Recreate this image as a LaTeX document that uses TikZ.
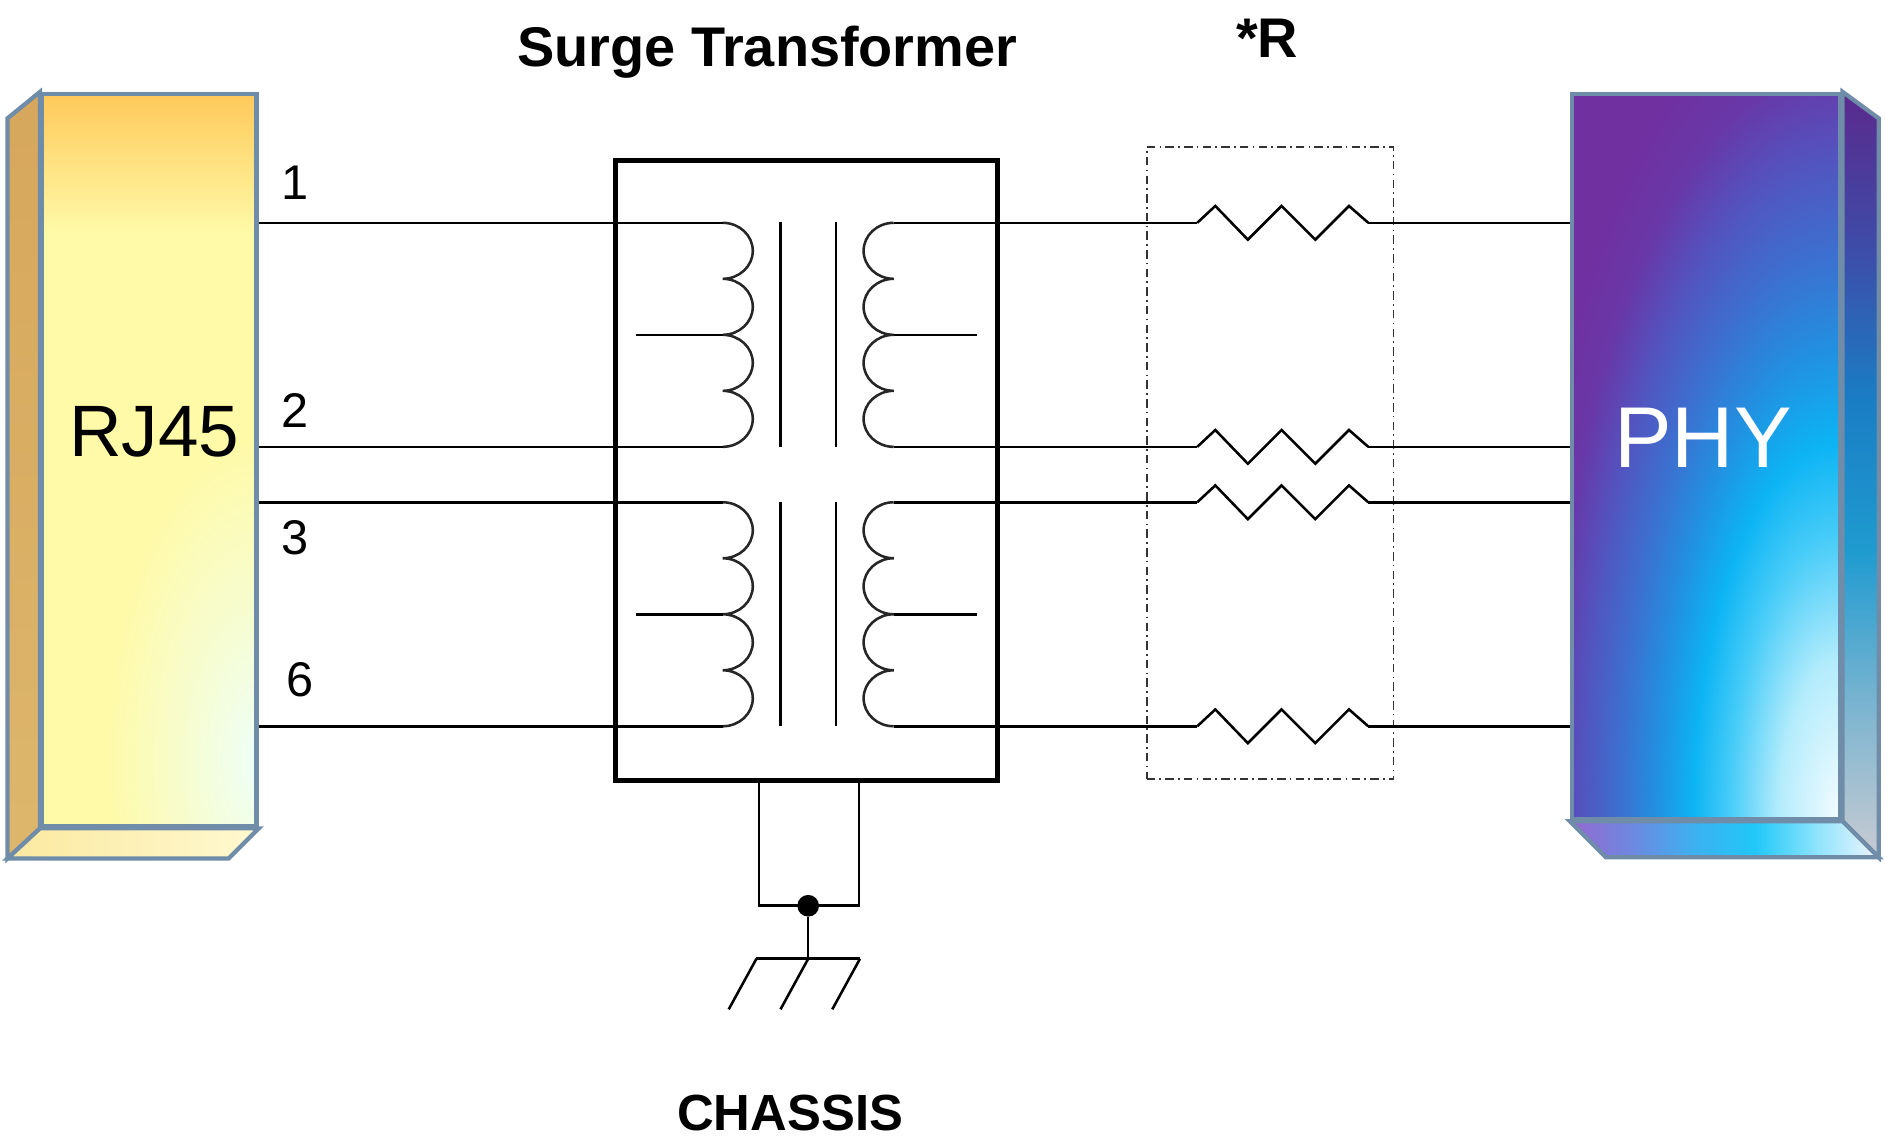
\documentclass[tikz,border=0pt]{standalone}
\usepackage{fontspec}
\setmainfont{Liberation Sans}
\usepackage{tikz}
\usetikzlibrary{positioning}

\definecolor{boxedge}{HTML}{6F8CA8}
\definecolor{rjtop}{HTML}{FFC95A}
\definecolor{rjband}{HTML}{FFDD6C}
\definecolor{rjlow}{HTML}{FFFAA8}
\definecolor{rjglow}{HTML}{EEFFF8}
\definecolor{rjsidetop}{HTML}{D6A75C}
\definecolor{rjsidebot}{HTML}{DDB66C}
\definecolor{rjbotl}{HTML}{FBE9A0}
\definecolor{rjbotr}{HTML}{FFF9D0}
\pgfdeclareradialshading{rjglowshade}{\pgfpoint{0bp}{0bp}}{color(0bp)=(rjglow); color(5bp)=(rjglow!55!rjlow); color(12bp)=(rjlow); color(50bp)=(rjlow)}
\pgfdeclareradialshading{phyglow}{\pgfpoint{0bp}{0bp}}{color(0bp)=(rgb,255:red,244;green,252;blue,255); color(5bp)=(rgb,255:red,180;green,236;blue,252); color(9bp)=(rgb,255:red,72;green,204;blue,248); color(12bp)=(rgb,255:red,12;green,180;blue,244); color(15bp)=(rgb,255:red,34;green,144;blue,224); color(18bp)=(rgb,255:red,60;green,112;blue,208); color(21bp)=(rgb,255:red,82;green,85;blue,192); color(24bp)=(rgb,255:red,104;green,56;blue,168); color(27bp)=(rgb,255:red,112;green,48;blue,160); color(50bp)=(rgb,255:red,112;green,48;blue,160)}
\pgfdeclareverticalshading{physide}{100bp}{color(0bp)=(rgb,255:red,200;green,203;blue,210); color(25bp)=(rgb,255:red,200;green,203;blue,210); color(35bp)=(rgb,255:red,122;green,180;blue,208); color(45bp)=(rgb,255:red,31;green,155;blue,208); color(55bp)=(rgb,255:red,26;green,125;blue,196); color(65bp)=(rgb,255:red,63;green,75;blue,168); color(75bp)=(rgb,255:red,90;green,42;blue,140); color(100bp)=(rgb,255:red,90;green,42;blue,140)}
\pgfdeclarehorizontalshading{phybot}{100bp}{color(0bp)=(rgb,255:red,148;green,104;blue,208); color(25bp)=(rgb,255:red,148;green,104;blue,208); color(35bp)=(rgb,255:red,110;green,136;blue,224); color(45bp)=(rgb,255:red,61;green,176;blue,240); color(55bp)=(rgb,255:red,32;green,200;blue,248); color(65bp)=(rgb,255:red,142;green,228;blue,252); color(75bp)=(rgb,255:red,240;green,244;blue,255); color(100bp)=(rgb,255:red,240;green,244;blue,255)}

\begin{document}
\begin{tikzpicture}[x=0.1mm,y=-0.1mm]
		\tikzstyle{wire}=[line width=0.6pt]
		\tikzstyle{coil}=[line width=0.6pt, black!85]
		\tikzstyle{prim}=[start angle=90, end angle=-90, x radius=2.5mm, y radius=2.325mm]
		\tikzstyle{sec}=[start angle=90, end angle=270, x radius=2.5mm, y radius=2.325mm]
		\tikzstyle{xfbox}=[rectangle, draw=black, line width=1.1pt, minimum width=31.7mm, minimum height=51.5mm, inner sep=0pt]
		\tikzstyle{rbox}=[rectangle, draw=black!80, line width=0.4pt, dash pattern=on 2pt off 1pt on 0.4pt off 1pt, minimum width=20.5mm, minimum height=52.5mm, inner sep=0pt]
		\tikzstyle{rjface}=[rectangle, draw=boxedge, line width=1pt, minimum width=17.8mm, minimum height=60.8mm, inner sep=0pt,
			path picture={\shade[shading=rjglowshade] ([shift={(-260,-500)}]path picture bounding box.south east) rectangle ([shift={(260,500)}]path picture bounding box.south east);
				\shade[top color=rjtop, middle color=rjband, bottom color=rjlow] (path picture bounding box.north west) rectangle ([shift={(0,115)}]path picture bounding box.north east);}]
		\tikzstyle{phyface}=[rectangle, draw=boxedge, line width=1pt, minimum width=22.3mm, minimum height=60.2mm, inner sep=0pt,
			path picture={\shade[shading=phyglow] ([shift={(-255,-650)}]path picture bounding box.south east) rectangle ([shift={(255,650)}]path picture bounding box.south east);}]
		\tikzstyle{dot}=[circle, fill=black, inner sep=0pt, minimum size=1.8mm]
		\tikzstyle{pinlbl}=[anchor=base, inner sep=0pt, font=\fontsize{11.5}{13}\selectfont]
		\tikzstyle{title}=[anchor=base, inner sep=0pt, font=\fontsize{13.2}{15}\selectfont\bfseries]
		\useasboundingbox (0,0) rectangle (1565,944);
		
		% connector blocks
		\node[rjface] (rj45) at (124,382) {};
		\draw[boxedge, line width=1pt, top color=rjsidetop, bottom color=rjsidebot]
			(rj45.north west) -- ++(-27,22) -- ([shift={(-27,25)}]rj45.south west) -- (rj45.south west) -- cycle;
		\draw[boxedge, line width=1pt, left color=rjbotl, right color=rjbotr]
			(rj45.south west) -- (rj45.south east) -- ++(-25,25) -- ([shift={(-27,25)}]rj45.south west) -- cycle;
		\node[phyface] (phy) at (1416.5,379) {};
		\draw[boxedge, line width=1pt, shading=physide]
			(phy.north east) -- ++(30,22) -- ([shift={(30,30)}]phy.south east) -- (phy.south east) -- cycle;
		\draw[boxedge, line width=1pt, shading=phybot]
			(phy.south west) -- (phy.south east) -- ++(30,30) -- ([shift={(30,30)}]phy.south west) -- cycle;
		\node[anchor=base, inner sep=0pt, font=\fontsize{17.2}{20}\selectfont] (rjtxt) at (128,379) {RJ45};
		\node[anchor=base, inner sep=0pt, white, font=\fontsize{20.4}{24}\selectfont] (phytxt) at (1414,388) {PHY};
		
		% transformer
		\node[xfbox] (xfmr) at (669.5,390.5) {};
		\coordinate (t1) at (600,185);
		\coordinate (t2) at (600,371);
		\coordinate (t3) at (600,417);
		\coordinate (t6) at (600,603);
		\coordinate (s1) at (742,185);
		\coordinate (s2) at (742,371);
		\coordinate (s3) at (742,417);
		\coordinate (s6) at (742,603);
		\draw[coil] (t1) arc[prim] arc[prim] arc[prim] arc[prim];
		\draw[coil] (t3) arc[prim] arc[prim] arc[prim] arc[prim];
		\draw[coil] (s1) arc[sec] arc[sec] arc[sec] arc[sec];
		\draw[coil] (s3) arc[sec] arc[sec] arc[sec] arc[sec];
		\draw[wire] (528,278) -- (600,278);
		\draw[wire] (528,510) -- (600,510);
		\draw[wire] (742,278) -- (811,278);
		\draw[wire] (742,510) -- (811,510);
		\draw[wire] (648,184) -- (648,371);
		\draw[wire] (694,184) -- (694,371);
		\draw[wire] (648,417) -- (648,603);
		\draw[wire] (694,417) -- (694,603);
		
		% resistors
		\node[rbox] (rbank) at (1054.5,384.5) {};
		\coordinate (ra1) at (994,185);
		\coordinate (ra2) at (994,371);
		\coordinate (ra3) at (994,417);
		\coordinate (ra6) at (994,603);
		\coordinate (rb1) at (1136,185);
		\coordinate (rb2) at (1136,371);
		\coordinate (rb3) at (1136,417);
		\coordinate (rb6) at (1136,603);
		\draw[wire] (ra1) -- ++(15,-14) -- ++(27,28) -- ++(28,-28) -- ++(28,28) -- ++(28,-28) -- (rb1);
		\draw[wire] (ra2) -- ++(15,-14) -- ++(27,28) -- ++(28,-28) -- ++(28,28) -- ++(28,-28) -- (rb2);
		\draw[wire] (ra3) -- ++(15,-14) -- ++(27,28) -- ++(28,-28) -- ++(28,28) -- ++(28,-28) -- (rb3);
		\draw[wire] (ra6) -- ++(15,-14) -- ++(27,28) -- ++(28,-28) -- ++(28,28) -- ++(28,-28) -- (rb6);
		
		% wiring
		\path (t1 -| rj45.east) edge [wire] (t1);
		\path (t2 -| rj45.east) edge [wire] (t2);
		\path (t3 -| rj45.east) edge [wire] (t3);
		\path (t6 -| rj45.east) edge [wire] (t6);
		\path (s1) edge [wire] (ra1);
		\path (s2) edge [wire] (ra2);
		\path (s3) edge [wire] (ra3);
		\path (s6) edge [wire] (ra6);
		\path (rb1) edge [wire] (rb1 -| phy.west);
		\path (rb2) edge [wire] (rb2 -| phy.west);
		\path (rb3) edge [wire] (rb3 -| phy.west);
		\path (rb6) edge [wire] (rb6 -| phy.west);
		
		% chassis ground
		\node[dot] (gdot) at (671,752) {};
		\coordinate (gA) at (630,648);
		\coordinate (gB) at (713,648);
		\coordinate (gnd) at (671,796);
		\draw[wire] (gA) -- (gA |- gdot) -- (gB |- gdot) -- (gB);
		\path (gdot) edge [wire] (gnd);
		\draw[wire] (628,796) -- (714,796);
		\draw[wire] (628,796) -- ++(-23,42);
		\draw[wire] (671,796) -- ++(-23,42);
		\draw[wire] (714,796) -- ++(-23,42);
		
		% labels
		\node[pinlbl] (lbl1) at (245,166) {1};
		\node[pinlbl] (lbl2) at (245,355) {2};
		\node[pinlbl] (lbl3) at (245,460) {3};
		\node[pinlbl] (lbl6) at (249,578) {6};
		\node[title] (xftitle) at (637,55) {Surge Transformer};
		\node[title] (rtitle) at (1052,48) {*R};
		\node[title, font=\fontsize{12}{14}\selectfont\bfseries] (chassis) at (656,939) {CHASSIS};
		
	\end{tikzpicture}
\end{document}
